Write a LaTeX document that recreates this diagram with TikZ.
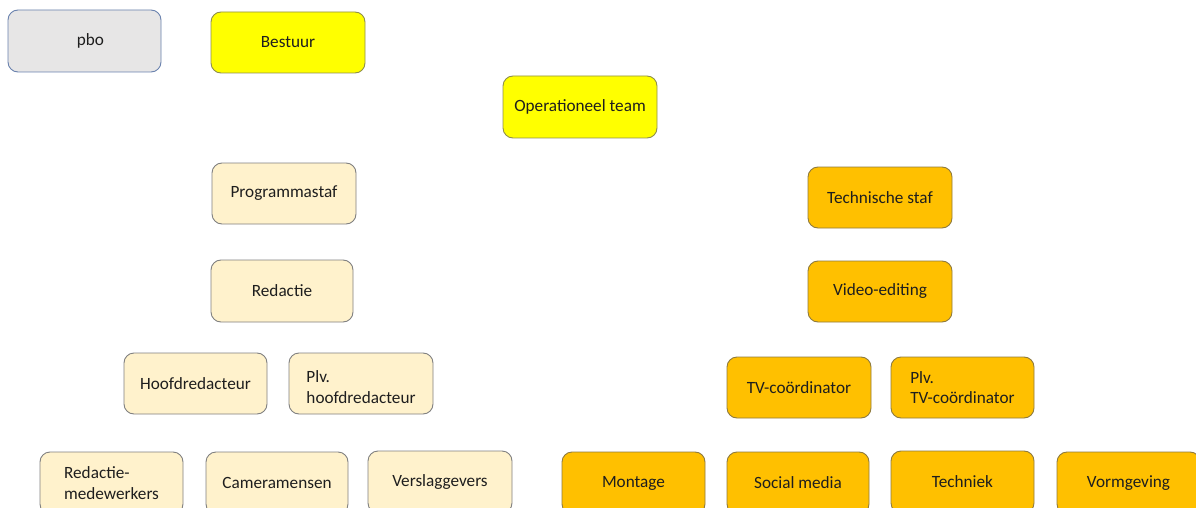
\documentclass[tikz,border=0pt]{standalone}
\usepackage{fontspec}
\setmainfont{Carlito}
\definecolor{greyfill}{HTML}{E7E6E6}
\definecolor{greyline}{HTML}{6A82AE}
\definecolor{yelfill}{HTML}{FFFF00}
\definecolor{yelline}{HTML}{8E8E4A}
\definecolor{creamfill}{HTML}{FFF2CC}
\definecolor{creamline}{HTML}{808080}
\definecolor{orfill}{HTML}{FFC000}
\definecolor{orline}{HTML}{8E7A3E}
\definecolor{txt}{HTML}{1E1E1E}
\begin{document}
\begin{tikzpicture}[x=1pt,y=-1pt,
  box/.style={draw, line width=0.9pt, rounded corners=10pt, inner sep=0pt,
    minimum width=143pt, minimum height=61pt, align=left, text=txt,
    font=\fontsize{17.2}{20.5}\selectfont},
  pbobox/.style={box, fill=greyfill, draw=greyline},
  yelbox/.style={box, fill=yelfill, draw=yelline},
  creambox/.style={box, fill=creamfill, draw=creamline},
  orbox/.style={box, fill=orfill, draw=orline}]
\useasboundingbox (0,0) rectangle (1196,508);
\clip (0,0) rectangle (1196,508);
\fill[white] (0,0) rectangle (1196,508);
% top
\node[pbobox, minimum width=153pt, minimum height=62pt] (pbo) at (84.5,41) {\hspace{12pt}pbo};
\node[yelbox, minimum width=154pt] (bestuur) at (288,42.5) {Bestuur};
\node[yelbox, minimum width=154pt, minimum height=62pt] (ops) at (580,107) {Operationeel team};
% left branch
\node[creambox, minimum width=144pt] (prog) at (284,193.5) {Programmastaf};
\node[creambox, minimum width=142pt, minimum height=62pt] (red) at (282,291) {Redactie};
\node[creambox] (hoofd) at (195.5,383.5) {Hoofdredacteur};
\node[creambox, minimum width=144pt] (plvhoofd) at (361,383.5) {\raisebox{-9.5pt}[0pt][0pt]{\begin{tabular}{@{}l@{}}Plv.\\hoofdredacteur\end{tabular}}};
\node[creambox, minimum height=62pt] (redmw) at (111.5,483) {Redactie-\\medewerkers};
\node[creambox, minimum width=142pt, minimum height=62pt] (camera) at (277,483) {Cameramensen};
\node[creambox, minimum width=144pt, minimum height=62pt] (versl) at (440,482) {Verslaggevers};
% right branch
\node[orbox, minimum width=144pt] (techstaf) at (880,197.5) {Technische staf};
\node[orbox, minimum width=144pt] (video) at (880,291.5) {Video-editing};
\node[orbox, minimum width=144pt] (tvc) at (799,387.5) {TV-coördinator};
\node[orbox, minimum width=143pt] (plvtvc) at (962.5,387.5) {Plv.\\TV-coördinator};
\node[orbox, minimum height=62pt] (montage) at (633.5,483) {Montage};
\node[orbox, minimum width=142pt, minimum height=62pt] (social) at (798,483) {Social media};
\node[orbox, minimum height=62pt] (techniek) at (962.5,482) {Techniek};
\node[orbox, minimum height=62pt] (vorm) at (1128.5,483) {Vormgeving};
\end{tikzpicture}
\end{document}
